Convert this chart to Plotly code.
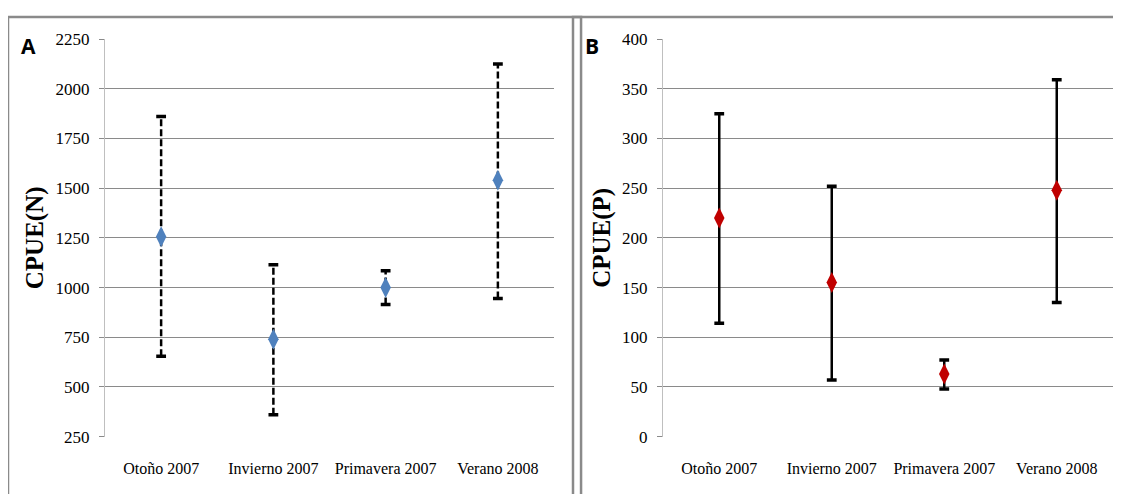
import plotly.graph_objects as go
from plotly.subplots import make_subplots

seasons = ["Otoño 2007", "Invierno 2007", "Primavera 2007", "Verano 2008"]

# panel A: CPUE(N)
cpue_n_mean = [1255, 740, 1000, 1540]
cpue_n_upper = [1860, 1115, 1085, 2125]
cpue_n_lower = [655, 360, 915, 945]
ticks_n = [250, 500, 750, 1000, 1250, 1500, 1750, 2000, 2250]

# panel B: CPUE(P)
cpue_p_mean = [220, 155, 63, 248]
cpue_p_upper = [325, 252, 77, 359]
cpue_p_lower = [114, 57, 48, 135]
ticks_p = [0, 50, 100, 150, 200, 250, 300, 350, 400]

W, H = 1105, 486
# where the figure lands on the captured page (measured from a test render)
OFFX, SPANX = 8, 1105
OFFY, SPANY = 15.9, 467.5
SERIF = "Liberation Serif"


def fx(px):
    return min(max((px - OFFX) / SPANX, 0), 1)


def fy(py):
    return 1 - (py - OFFY) / SPANY


def add_panel(fig, col, mean, lower, upper, color, dash):
    xs, ys = [], []
    for s, lo, hi in zip(seasons, lower, upper):
        xs += [s, s, None]
        ys += [lo, hi, None]
    fig.add_trace(
        go.Scatter(x=xs, y=ys, mode="lines", line={"color": "black", "width": 2.5, "dash": dash},
                   hoverinfo="skip", showlegend=False),
        row=1, col=col,
    )
    fig.add_trace(
        go.Scatter(x=seasons + seasons, y=lower + upper, mode="markers",
                   marker={"symbol": "line-ew", "size": 7, "line": {"color": "black", "width": 3.5}},
                   hoverinfo="skip", showlegend=False),
        row=1, col=col,
    )
    fig.add_trace(
        go.Scatter(x=seasons, y=mean, mode="markers",
                   marker={"symbol": "diamond-tall", "size": 15, "color": color, "line": {"width": 0}},
                   showlegend=False),
        row=1, col=col,
    )


fig = make_subplots(rows=1, cols=2)
add_panel(fig, 1, cpue_n_mean, cpue_n_lower, cpue_n_upper, "#4f81bd", "7px,3px")
add_panel(fig, 2, cpue_p_mean, cpue_p_lower, cpue_p_upper, "#c00000", "solid")

xaxis_common = dict(
    showgrid=False, showline=False, ticks="", zeroline=False,
    tickfont={"family": SERIF, "size": 16, "color": "black"},
    ticklabelstandoff=20, range=[-0.5, 3.5],
)
yaxis_common = dict(
    showgrid=True, gridcolor="#8a8a8a", gridwidth=1, zeroline=False,
    showline=True, linecolor="#bfbfbf", linewidth=1,
    ticks="outside", ticklen=5, tickcolor="#8a8a8a",
    tickfont={"family": SERIF, "size": 17, "color": "black"},
    ticklabelstandoff=6,
)
title_font = {"family": SERIF, "size": 25, "color": "black"}
fig.update_layout(
    width=W, height=H,
    margin={"l": 0, "r": 0, "t": 0, "b": 0},
    plot_bgcolor="white", paper_bgcolor="white",
    xaxis=dict(domain=[fx(105), fx(554)], **xaxis_common),
    xaxis2=dict(domain=[fx(663), fx(1116)], **xaxis_common),
    yaxis=dict(
        domain=[fy(436), fy(38)], range=[250, 2250], tickvals=ticks_n,
        title={"text": "<b>CPUE(N)</b>", "font": title_font, "standoff": 4},
        **yaxis_common,
    ),
    yaxis2=dict(
        domain=[fy(436), fy(38)], range=[0, 400], tickvals=ticks_p,
        title={"text": "<b>CPUE(P)</b>", "font": title_font, "standoff": 4},
        **yaxis_common,
    ),
)

# panel frames
for x0, x1 in [(7, 570), (573, 1130)]:
    fig.add_shape(type="rect", xref="paper", yref="paper",
                  x0=fx(x0), x1=fx(x1) + 0.01, y0=-0.1, y1=min(fy(13), 1),
                  line={"color": "#8a8a8a", "width": 2.5})

# panel letters
for label, px in [("A", 28), ("B", 592)]:
    fig.add_annotation(text=f"<b>{label}</b>", xref="paper", yref="paper",
                       x=fx(px), y=fy(45), xanchor="center", yanchor="middle", showarrow=False,
                       font={"family": "Open Sans", "size": 21, "color": "black"})

fig.write_html("out.html")
